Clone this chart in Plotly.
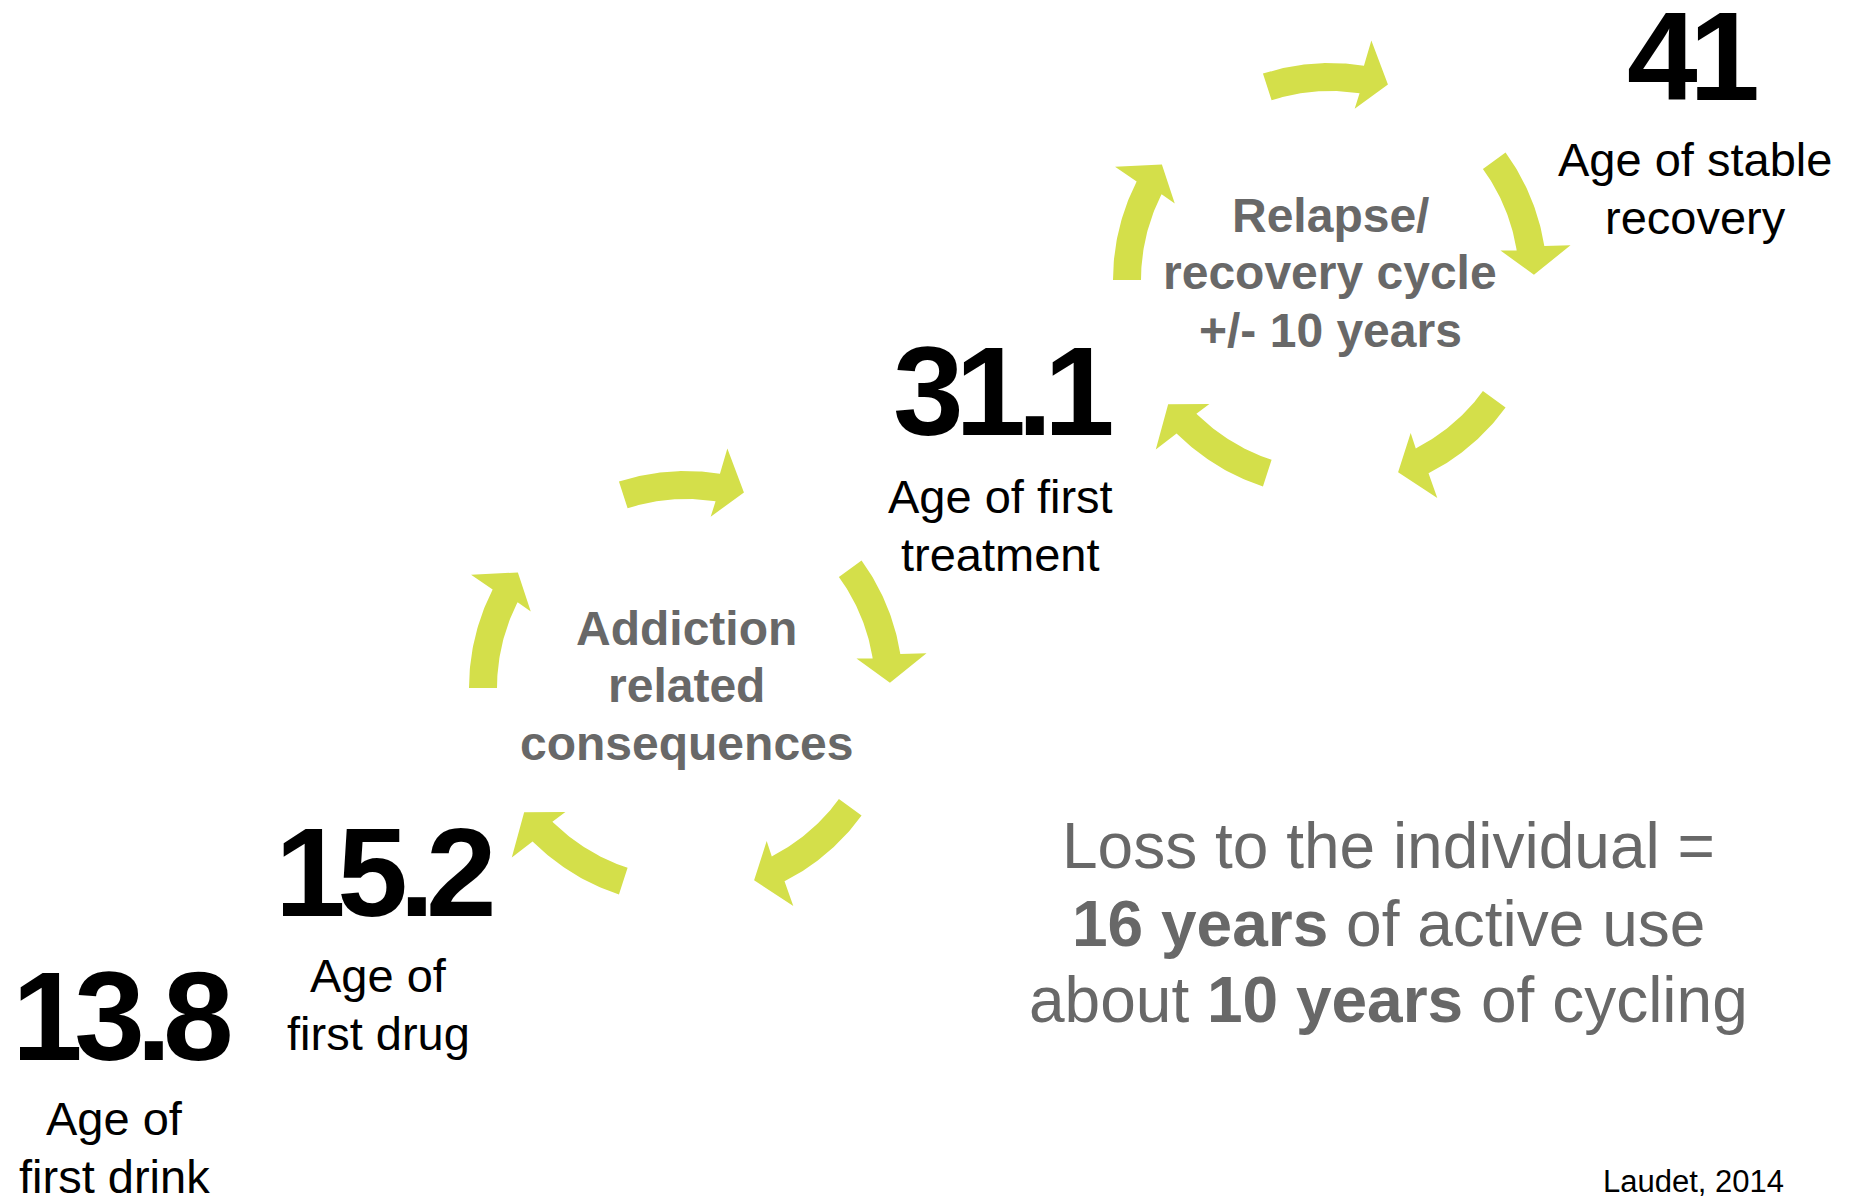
import numpy as np
import plotly.graph_objects as go

# ---------------- data ----------------
ages = ["13.8", "15.2", "31.1", "41"]
age_labels = [["Age of", "first drink"],
              ["Age of", "first drug"],
              ["Age of first", "treatment"],
              ["Age of stable", "recovery"]]

cycle_labels = [["Addiction", "related", "consequences"],
                ["Relapse/", "recovery cycle", "+/- 10 years"]]

loss_lines = ["Loss to the individual =",
              "<b>16 years</b> of active use",
              "about <b>10 years</b> of cycling"]

source_text = "Laudet, 2014"

# ---------------- layout positions (pixels) ----------------
num_x = [121, 383, 1002, 1692]
num_y = [1016, 872, 391, 56]
label_x = [114, 378, 1000, 1695]
label_y = [1118, 975, 496, 159]
label_gap = 58

cycle_cx = [686, 1330]
cycle_cy = [688, 280]
cycle_text_y = [628, 215]
cycle_gap = 57.5

loss_x = 1388
loss_y = [846, 924, 1000]
source_xy = (1693, 1181)

# arrow geometry
n_arrows = 5
arrow_start = [180 - 72 * k for k in range(n_arrows)]
band_span = 27
head_span = 7.5
r_in, r_out = 189, 217
head_in, head_out, tip_r = 173, 243, 204

ARROW = "#D4DF4A"
GRAY = "#686868"
FONT = "Liberation Sans, Arial, Helvetica, sans-serif"

fig = go.Figure()


def pt(cx, cy, r, th):
    t = np.deg2rad(th)
    return cx + r * np.cos(t), cy - r * np.sin(t)


for cx, cy in zip(cycle_cx, cycle_cy):
    for ts in arrow_start:
        th_h = ts - band_span
        th_t = th_h - head_span
        angs = np.linspace(ts, th_h, 40)
        xs, ys = [], []
        for a in angs:
            x, y = pt(cx, cy, r_out, a)
            xs.append(x); ys.append(y)
        for r, a in [(head_out, th_h - 0.8), (tip_r, th_t), (head_in, th_h + 0.8)]:
            x, y = pt(cx, cy, r, a)
            xs.append(x); ys.append(y)
        for a in angs[::-1]:
            x, y = pt(cx, cy, r_in, a)
            xs.append(x); ys.append(y)
        xs.append(xs[0]); ys.append(ys[0])
        fig.add_trace(go.Scatter(x=xs, y=ys, mode="lines", fill="toself",
                                 fillcolor=ARROW, line=dict(width=0, color=ARROW),
                                 hoverinfo="skip", showlegend=False))

ann = []
for i, a in enumerate(ages):
    ann.append(dict(x=num_x[i], y=num_y[i],
                    text=f'<span style="letter-spacing:-8.5px"><b>{a}</b></span>',
                    font=dict(family=FONT, size=127, color="black")))
    for j, line in enumerate(age_labels[i]):
        ann.append(dict(x=label_x[i], y=label_y[i] + j * label_gap, text=line,
                        font=dict(family=FONT, size=47, color="black")))

for c, lines in enumerate(cycle_labels):
    for j, line in enumerate(lines):
        ann.append(dict(x=cycle_cx[c], y=cycle_text_y[c] + j * cycle_gap,
                        text=f"<b>{line}</b>",
                        font=dict(family=FONT, size=48, color=GRAY)))

for j, line in enumerate(loss_lines):
    ann.append(dict(x=loss_x, y=loss_y[j], text=line,
                    font=dict(family=FONT, size=64, color=GRAY)))

ann.append(dict(x=source_xy[0], y=source_xy[1], text=source_text,
                font=dict(family=FONT, size=31, color="black")))

for a in ann:
    a.update(xref="x", yref="y", showarrow=False, xanchor="center", yanchor="middle")

fig.update_layout(
    width=1850, height=1196,
    margin=dict(l=0, r=0, t=0, b=0),
    paper_bgcolor="white", plot_bgcolor="white",
    xaxis=dict(range=[0, 1850], visible=False, fixedrange=True),
    yaxis=dict(range=[1196, 0], visible=False, fixedrange=True),
    annotations=ann,
    showlegend=False,
)

fig.write_html("out.html", config={"displayModeBar": False},
               post_script="document.body.style.margin='0';")
